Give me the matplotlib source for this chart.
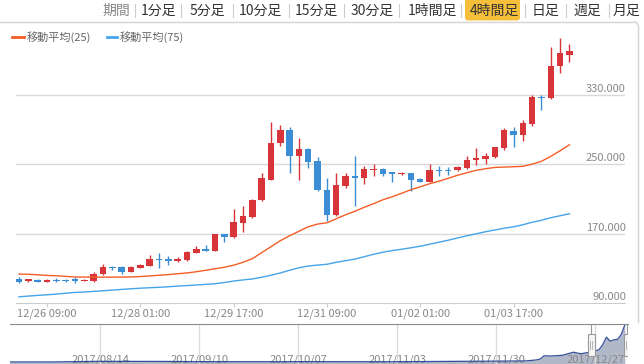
import matplotlib
matplotlib.use('Agg')
import matplotlib.pyplot as plt
import numpy as np
import pandas as pd
from matplotlib.lines import Line2D
from matplotlib.patches import Rectangle, FancyBboxPatch, Arc
from matplotlib import transforms

plt.rcParams['font.family'] = ['Noto Sans CJK JP', 'DejaVu Sans']

# 4h candles, 12/25 21:00 .. 01/04 17:00
opens = [118.2, 115.1, 117.1, 114.8, 116.7, 116.7, 117.9, 115.6, 115.1, 123.6,
         131.7, 131.7, 126.3, 130.9, 133.5, 141.3, 140.5, 138.2, 139.3, 148.2,
         152.8, 150.5, 169.2, 165.8, 183.0, 188.8, 208.8, 232.2, 274.0, 289.8,
         259.0, 267.9, 253.3, 220.7, 191.1, 224.5, 236.8, 233.7, 243.7, 244.9,
         240.6, 238.3, 239.5, 233.4, 229.9, 243.7, 243.7, 243.4, 245.2, 255.2,
         256.0, 257.9, 268.7, 288.6, 283.2, 296.7, 327.7, 326.6, 362.6, 376.1]
highs = [120.5, 118.2, 118.2, 118.2, 119.4, 118.2, 120.5, 117.7, 126.3, 135.5,
         133.2, 132.6, 132.6, 135.5, 145.9, 147.8, 143.9, 142.8, 150.5, 155.4,
         157.0, 170.0, 170.0, 198.8, 201.5, 210.3, 239.9, 299.0, 295.5, 292.4,
         280.2, 268.4, 258.3, 234.8, 239.9, 240.3, 259.0, 248.3, 250.3, 245.4,
         241.4, 240.6, 239.9, 234.0, 250.3, 248.3, 247.1, 247.5, 259.0, 268.7,
         262.7, 270.2, 291.3, 292.9, 300.5, 329.7, 330.0, 385.6, 395.3, 388.4]
lows = [113.6, 114.8, 114.2, 114.2, 114.2, 114.8, 113.6, 115.1, 114.8, 122.8,
        127.8, 123.6, 125.7, 130.3, 132.6, 130.5, 134.4, 137.2, 139.0, 147.6,
        149.9, 149.9, 160.0, 165.4, 171.5, 188.5, 208.0, 231.6, 270.5, 239.9,
        231.4, 245.7, 219.5, 185.0, 190.8, 223.0, 201.5, 227.6, 236.0, 236.0,
        230.2, 237.4, 219.5, 229.3, 229.3, 236.0, 237.4, 242.2, 244.5, 249.5,
        250.3, 256.9, 265.9, 269.8, 276.3, 294.4, 312.8, 325.4, 355.0, 367.7]
closes = [114.8, 117.4, 114.8, 117.1, 115.9, 115.9, 115.1, 117.1, 123.6, 132.0,
          130.5, 126.3, 132.0, 134.4, 141.3, 139.8, 138.2, 140.5, 149.3, 152.8,
          150.5, 169.2, 166.2, 183.8, 190.0, 209.2, 233.7, 274.8, 289.8, 259.0,
          267.9, 252.1, 219.9, 191.1, 226.4, 236.8, 234.2, 244.5, 244.9, 239.1,
          238.3, 239.5, 232.2, 230.2, 243.7, 242.5, 242.5, 246.4, 255.2, 256.7,
          259.0, 269.4, 289.0, 283.2, 297.8, 327.7, 326.6, 363.4, 378.0, 381.0]

ma25 = [123.6, 123.4, 122.8, 122.1, 121.7, 121.0, 120.3, 120.2, 120.1, 120.1,
        120.1, 120.2, 120.3, 120.8, 121.5, 122.3, 123.1, 124.0, 124.9, 126.3,
        128.0, 129.7, 131.5, 133.8, 137.2, 141.3, 148.2, 155.1, 162.0, 167.8,
        172.9, 178.1, 181.2, 182.7, 187.3, 191.9, 195.9, 200.5, 204.6, 209.2,
        212.6, 216.6, 220.7, 224.1, 227.6, 230.5, 233.9, 237.4, 240.3, 243.1,
        244.9, 246.4, 246.8, 247.2, 247.7, 250.1, 253.5, 259.2, 265.6, 272.5]
ma75 = [97.5, 98.3, 99.1, 99.8, 100.6, 101.6, 102.5, 103.0, 103.7, 104.4,
        105.2, 106.0, 106.7, 107.4, 107.9, 108.4, 109.0, 109.8, 110.4, 111.1,
        111.8, 112.5, 113.9, 115.6, 116.9, 118.0, 120.0, 122.3, 124.9, 128.0,
        130.9, 132.9, 134.0, 134.9, 137.2, 139.0, 140.9, 143.6, 146.4, 148.8,
        150.7, 152.2, 153.9, 155.7, 158.0, 160.3, 162.6, 165.2, 167.7, 170.0,
        172.4, 174.4, 176.4, 178.1, 180.4, 183.3, 185.6, 188.5, 190.8, 193.1]

tick_pos = [3, 13, 23, 33, 43, 53]
tick_labels = ['12/26 09:00', '12/28 01:00', '12/29 17:00',
               '12/31 09:00', '01/02 01:00', '01/03 17:00']
yticks = [90, 170, 250, 330]

periods = ['期間', '1分足', '5分足', '10分足', '15分足', '30分足',
           '1時間足', '4時間足', '日足', '週足', '月足']
active_period = '4時間足'

legend_labels = ['移動平均(25)', '移動平均(75)']

# overview navigator (daily)
nav_dates = ['2017-07-20', '2017-08-01', '2017-08-14', '2017-09-01', '2017-09-10',
             '2017-10-01', '2017-10-07', '2017-11-01', '2017-11-15', '2017-11-30',
             '2017-12-08', '2017-12-11', '2017-12-12', '2017-12-13', '2017-12-15',
             '2017-12-18', '2017-12-21', '2017-12-23', '2017-12-25', '2017-12-26',
             '2017-12-27', '2017-12-28', '2017-12-29', '2017-12-30', '2017-12-31',
             '2018-01-01', '2018-01-02', '2018-01-03', '2018-01-04']
nav_vals = [20, 20, 26, 25, 23, 22, 23, 22, 25, 28, 30, 40, 50, 80, 78,
            85, 115, 100, 112, 116, 128, 140, 190, 262, 222, 236, 240, 285, 380]
nav_ticks = ['2017-08-14', '2017-09-10', '2017-10-07', '2017-11-03',
             '2017-11-30', '2017-12-27']
sel_start, sel_end = '2017-12-25 21:00', '2018-01-04 17:00'

RED = '#d8353b'
BLUE = '#3b8dd5'
MA25_C = '#f45d26'
MA75_C = '#45a4ea'
GRID = '#d9d9d9'
TXT = '#888888'

W, H = 644, 364
fig = plt.figure(figsize=(W / 100, H / 100), dpi=100)

# overlay in pixel coords for the page chrome
ov = fig.add_axes([0, 0, 1, 1])
ov.set_xlim(0, W)
ov.set_ylim(H, 0)
ov.axis('off')

px = [116, 159, 207, 260, 316, 372, 432, 494, 545, 587, 626]
seps = [135.5, 180.6, 232.6, 289, 344, 399, 461, 525, 566, 608.7]
for s in seps:
    ov.add_line(Line2D([s, s], [4, 17], color='#cccccc', lw=0.8))
for p, x in zip(periods, px):
    if p == active_period:
        ov.add_patch(FancyBboxPatch((465, -4), 55, 24.5,
                                    boxstyle='round,pad=0,rounding_size=3',
                                    fc='#f6bf3a', ec='none'))
    col = TXT if p == '期間' else '#333333'
    ov.text(x, 10.5, p, ha='center', va='center', fontsize=10, color=col)

# chart frame
ov.add_line(Line2D([-2, 634], [21.7, 21.7], color='#d3d3d3', lw=1))
ov.add_line(Line2D([638, 638], [25.7, 322], color='#d3d3d3', lw=1))
ov.add_patch(Arc((634, 25.7), 8, 8, theta1=270, theta2=360, color='#d3d3d3', lw=1))

# legend
for (x0, x1, tx), lab, col in zip([(12, 24, 27), (107, 117, 120)], legend_labels, [MA25_C, MA75_C]):
    ov.add_line(Line2D([x0, x1], [37, 37], color=col, lw=2))
    ov.text(tx, 37, lab, ha='left', va='center', fontsize=8, color='#666666')

# main chart
ax = fig.add_axes([16 / W, 1 - 303.3 / H, (625 - 16) / W, (303.3 - 30) / H])
ax.patch.set_alpha(0)
n = len(opens)
x = np.arange(n)
o = np.array(opens)
c = np.array(closes)
cols = np.where(c >= o, RED, BLUE)
ax.vlines(x, lows, highs, colors=cols, lw=1, zorder=3)
ax.bar(x, np.maximum(np.abs(c - o), 1.3), bottom=np.minimum(o, c), width=0.7,
       color=cols, linewidth=0, zorder=4)
ax.plot(x, ma25, color=MA25_C, lw=1.0, zorder=5)
ax.plot(x, ma75, color=MA75_C, lw=1.0, zorder=5)

for v in yticks[1:]:
    ax.axhline(v, color=GRID, lw=1, zorder=0)
lab_tr = transforms.offset_copy(ax.get_yaxis_transform(), fig=fig, x=1, y=1, units='dots')
for v in yticks:
    ax.text(1.0, v, f'{v:.3f}', transform=lab_tr, ha='right', va='bottom',
            fontsize=8, color=TXT)

ax.set_xlim(-0.32, 64.95)
ax.set_ylim(90, 404.6)
ax.set_yticks([])
ax.set_xticks(tick_pos, tick_labels)
ax.tick_params(axis='x', length=3, color='#cccccc', labelcolor=TXT, labelsize=8, pad=0.5)
for s in ['top', 'left', 'right']:
    ax.spines[s].set_visible(False)
ax.spines['bottom'].set_color('#cccccc')

# navigator
nav = fig.add_axes([10 / W, 0, (628 - 10) / W, (364 - 324) / H])
nav.patch.set_alpha(0)
nd = pd.to_datetime(nav_dates)
nav.fill_between(nd, nav_vals, color='#b1b9c8', lw=0)
nav.plot(nd, nav_vals, color='#34509a', lw=0.9)
nav.set_xlim(pd.Timestamp('2017-07-20 11:00'), pd.Timestamp('2018-01-04 21:00'))
nav.set_ylim(0, 390)
nav.set_yticks([])
nav.set_xticks(pd.to_datetime(nav_ticks), [d.replace('-', '/') for d in nav_ticks])
nav.tick_params(axis='x', length=0, labelsize=8, labelcolor=TXT, pad=-7)
nav.grid(axis='x', color='#dcdcdc', lw=1)
for s in ['bottom', 'left', 'right']:
    nav.spines[s].set_visible(False)
nav.spines['top'].set_color('#8a8a8a')

xtr = nav.get_xaxis_transform()
for d in [sel_start, sel_end]:
    t = pd.Timestamp(d)
    nav.plot([t, t], [0.75, 1.0], transform=xtr, color='#999999', lw=0.8)
    nav.add_patch(Rectangle((t - pd.Timedelta(hours=23), 0.2), pd.Timedelta(hours=46), 0.55,
                            transform=xtr, fc='#f4f4f4', ec='#999999', lw=0.8, zorder=5))
    for dh in (-6, 6):
        tt = t + pd.Timedelta(hours=dh)
        nav.plot([tt, tt], [0.37, 0.58], transform=xtr, color='#aaaaaa', lw=0.6, zorder=6)

fig.savefig('out.png', dpi=100)
